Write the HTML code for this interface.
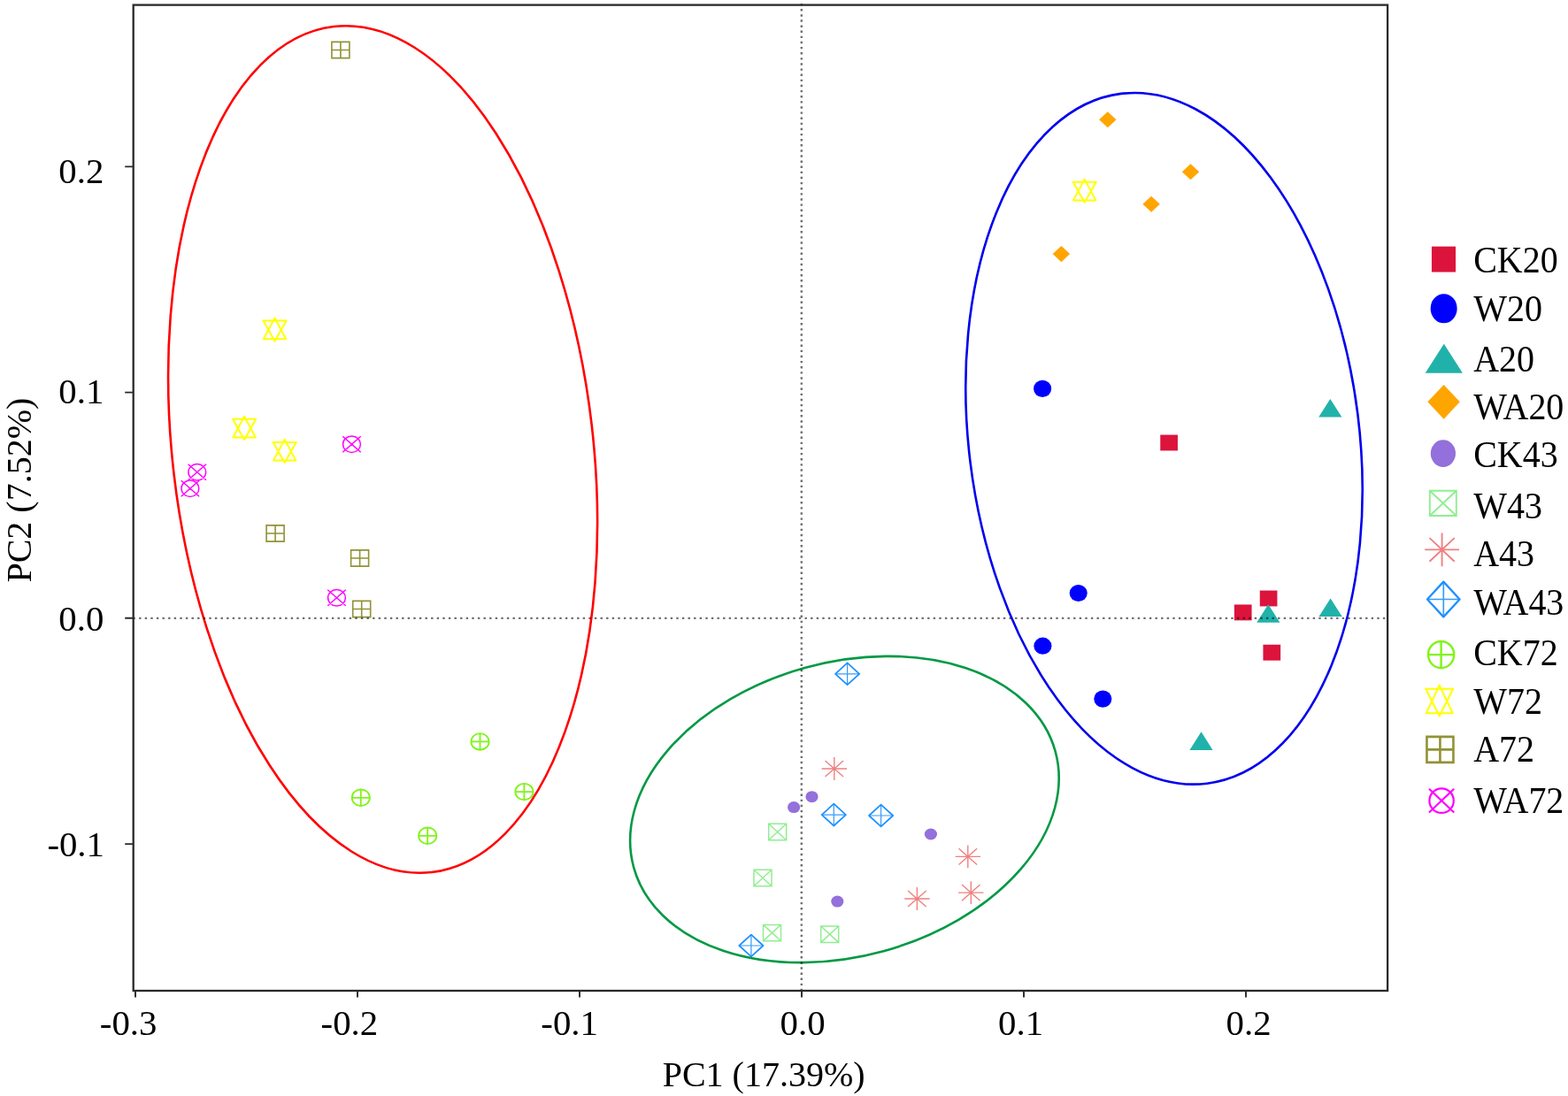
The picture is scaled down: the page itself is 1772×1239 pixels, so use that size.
<!DOCTYPE html>
<html><head><meta charset="utf-8"><title>PCA plot</title>
<style>html,body{margin:0;padding:0;background:#fff;width:1772px;height:1239px;overflow:hidden}svg{display:block}</style>
</head><body>
<svg width="1772" height="1239" viewBox="0 0 1772 1239">
<rect width="1772" height="1239" fill="#fff"/>
<g fill="none" stroke-width="2.6">
<ellipse cx="432.6" cy="508.0" rx="237.7" ry="481.2" transform="rotate(-6.6 432.6 508.0)" stroke="#FF0000"/>
<ellipse cx="1315.5" cy="495.8" rx="220.6" ry="392.9" transform="rotate(-7.1 1315.5 495.8)" stroke="#0000EE"/>
<ellipse cx="954.4" cy="915.0" rx="247.1" ry="166.2" transform="rotate(-15.4 954.4 915.0)" stroke="#009944"/>
</g>
<rect x="1311.25" y="491.55" width="19.7" height="17.9" fill="#DC143C"/>
<rect x="1394.85" y="683.45" width="19.7" height="17.9" fill="#DC143C"/>
<rect x="1423.75" y="667.55" width="19.7" height="17.9" fill="#DC143C"/>
<rect x="1427.45" y="728.75" width="19.7" height="17.9" fill="#DC143C"/>
<ellipse cx="1178.1" cy="439.4" rx="10.05" ry="9.6" fill="#0000FF"/>
<ellipse cx="1218.7" cy="670.5" rx="10.05" ry="9.6" fill="#0000FF"/>
<ellipse cx="1178.4" cy="730.2" rx="10.05" ry="9.6" fill="#0000FF"/>
<ellipse cx="1246.3" cy="790.1" rx="10.05" ry="9.6" fill="#0000FF"/>
<polygon points="1503.3,451 1490.2,471.6 1516.4,471.6" fill="#20B2AA"/>
<polygon points="1433.3,683.2 1420.2,703.8 1446.4,703.8" fill="#20B2AA"/>
<polygon points="1503.6,676.5 1490.5,697.1 1516.7,697.1" fill="#20B2AA"/>
<polygon points="1357.5,827.3 1344.4,847.9 1370.6,847.9" fill="#20B2AA"/>
<polygon points="1251.8,126.25 1261.5,135.3 1251.8,144.35 1242.1,135.3" fill="#FFA500"/>
<polygon points="1345.5,185.25 1355.2,194.3 1345.5,203.35 1335.8,194.3" fill="#FFA500"/>
<polygon points="1301.1,221.65 1310.8,230.7 1301.1,239.75 1291.4,230.7" fill="#FFA500"/>
<polygon points="1199.4,278.05 1209.1,287.1 1199.4,296.15 1189.7,287.1" fill="#FFA500"/>
<ellipse cx="917.5" cy="900.7" rx="7.1" ry="6.5" fill="#9370DB"/>
<ellipse cx="897.1" cy="912.6" rx="7.1" ry="6.5" fill="#9370DB"/>
<ellipse cx="1051.9" cy="943" rx="7.1" ry="6.5" fill="#9370DB"/>
<ellipse cx="946.3" cy="1019.1" rx="7.1" ry="6.5" fill="#9370DB"/>
<path d="M868.7 931.3H888.7V949.7H868.7ZM868.7 931.3L888.7 949.7M888.7 931.3L868.7 949.7" fill="none" stroke="#90EE90" stroke-width="1.5"/>
<path d="M852 983.3H872V1001.7H852ZM852 983.3L872 1001.7M872 983.3L852 1001.7" fill="none" stroke="#90EE90" stroke-width="1.5"/>
<path d="M862.5 1045.4H882.5V1063.8H862.5ZM862.5 1045.4L882.5 1063.8M882.5 1045.4L862.5 1063.8" fill="none" stroke="#90EE90" stroke-width="1.5"/>
<path d="M927.7 1047H947.7V1065.4H927.7ZM927.7 1047L947.7 1065.4M947.7 1047L927.7 1065.4" fill="none" stroke="#90EE90" stroke-width="1.5"/>
<path d="M928.6 869H957M942.8 856.1V881.9M932.5 859.9L953.1 878.1M953.1 859.9L932.5 878.1" fill="none" stroke="#F08080" stroke-width="1.4"/>
<path d="M1079.6 968.4H1108M1093.8 955.5V981.3M1083.5 959.3L1104.1 977.5M1104.1 959.3L1083.5 977.5" fill="none" stroke="#F08080" stroke-width="1.4"/>
<path d="M1083.1 1009.1H1111.5M1097.3 996.2V1022M1087 1000L1107.6 1018.2M1107.6 1000L1087 1018.2" fill="none" stroke="#F08080" stroke-width="1.4"/>
<path d="M1022.2 1016H1050.6M1036.4 1003.1V1028.9M1026.1 1006.9L1046.7 1025.1M1046.7 1006.9L1026.1 1025.1" fill="none" stroke="#F08080" stroke-width="1.4"/>
<path d="M957.6 749.4L971.2 761.8L957.6 774.2L944 761.8Z" fill="none" stroke="#1E90FF" stroke-width="1.7" stroke-linejoin="round"/><path d="M957.6 749.4V774.2M944 761.8H971.2" fill="none" stroke="#1E90FF" stroke-width="1.22" stroke-opacity="0.9"/>
<path d="M942.3 908.7L955.9 921.1L942.3 933.5L928.7 921.1Z" fill="none" stroke="#1E90FF" stroke-width="1.7" stroke-linejoin="round"/><path d="M942.3 908.7V933.5M928.7 921.1H955.9" fill="none" stroke="#1E90FF" stroke-width="1.22" stroke-opacity="0.9"/>
<path d="M995.6 909.6L1009.2 922L995.6 934.4L982 922Z" fill="none" stroke="#1E90FF" stroke-width="1.7" stroke-linejoin="round"/><path d="M995.6 909.6V934.4M982 922H1009.2" fill="none" stroke="#1E90FF" stroke-width="1.22" stroke-opacity="0.9"/>
<path d="M848.9 1056.6L862.5 1069L848.9 1081.4L835.3 1069Z" fill="none" stroke="#1E90FF" stroke-width="1.7" stroke-linejoin="round"/><path d="M848.9 1056.6V1081.4M835.3 1069H862.5" fill="none" stroke="#1E90FF" stroke-width="1.22" stroke-opacity="0.9"/>
<path d="M532.4 838.4A10.1 9.3 0 1 0 552.6 838.4A10.1 9.3 0 1 0 532.4 838.4ZM532.4 838.4H552.6M542.5 829.1V847.7" fill="none" stroke="#80F418" stroke-width="1.8"/>
<path d="M397.7 901.8A10.1 9.3 0 1 0 417.9 901.8A10.1 9.3 0 1 0 397.7 901.8ZM397.7 901.8H417.9M407.8 892.5V911.1" fill="none" stroke="#80F418" stroke-width="1.8"/>
<path d="M582.3 895.1A10.1 9.3 0 1 0 602.5 895.1A10.1 9.3 0 1 0 582.3 895.1ZM582.3 895.1H602.5M592.4 885.8V904.4" fill="none" stroke="#80F418" stroke-width="1.8"/>
<path d="M473.1 944.8A10.1 9.3 0 1 0 493.3 944.8A10.1 9.3 0 1 0 473.1 944.8ZM473.1 944.8H493.3M483.2 935.5V954.1" fill="none" stroke="#80F418" stroke-width="1.8"/>
<path d="M310.5 359.5L323.2 383.3L297.8 383.3ZM297.4 362.6L323.6 362.6L310.5 385.7Z" fill="none" stroke="#FFFF00" stroke-width="2" stroke-linejoin="round"/>
<path d="M276.1 470.7L288.8 494.5L263.4 494.5ZM263 473.8L289.2 473.8L276.1 496.9Z" fill="none" stroke="#FFFF00" stroke-width="2" stroke-linejoin="round"/>
<path d="M321.7 496.8L334.4 520.6L309 520.6ZM308.6 499.9L334.8 499.9L321.7 523Z" fill="none" stroke="#FFFF00" stroke-width="2" stroke-linejoin="round"/>
<path d="M1225.7 202.6L1238.4 226.4L1213 226.4ZM1212.6 205.7L1238.8 205.7L1225.7 228.8Z" fill="none" stroke="#FFFF00" stroke-width="2" stroke-linejoin="round"/>
<path d="M374.9 47.4H394.9V65.6H374.9ZM374.9 56.5H394.9M384.9 47.4V65.6" fill="none" stroke="#929236" stroke-width="1.6"/>
<path d="M301.1 593.9H321.1V612.1H301.1ZM301.1 603H321.1M311.1 593.9V612.1" fill="none" stroke="#929236" stroke-width="1.6"/>
<path d="M396.6 621.9H416.6V640.1H396.6ZM396.6 631H416.6M406.6 621.9V640.1" fill="none" stroke="#929236" stroke-width="1.6"/>
<path d="M398.7 679.4H418.7V697.6H398.7ZM398.7 688.5H418.7M408.7 679.4V697.6" fill="none" stroke="#929236" stroke-width="1.6"/>
<path d="M212.9 533.8A9.9 9.3 0 1 0 232.7 533.8A9.9 9.3 0 1 0 212.9 533.8ZM212.6 524.8L233 542.8M233 524.8L212.6 542.8" fill="none" stroke="#FF00FF" stroke-width="1.5"/>
<path d="M205 552.2A9.9 9.3 0 1 0 224.8 552.2A9.9 9.3 0 1 0 205 552.2ZM204.7 543.2L225.1 561.2M225.1 543.2L204.7 561.2" fill="none" stroke="#FF00FF" stroke-width="1.5"/>
<path d="M387.6 502.2A9.9 9.3 0 1 0 407.4 502.2A9.9 9.3 0 1 0 387.6 502.2ZM387.3 493.2L407.7 511.2M407.7 493.2L387.3 511.2" fill="none" stroke="#FF00FF" stroke-width="1.5"/>
<path d="M370.6 675.8A9.9 9.3 0 1 0 390.4 675.8A9.9 9.3 0 1 0 370.6 675.8ZM370.3 666.8L390.7 684.8M390.7 666.8L370.3 684.8" fill="none" stroke="#FF00FF" stroke-width="1.5"/>
<g stroke="#000" stroke-opacity="0.56" stroke-width="2.4">
<line x1="150.5" y1="698.9" x2="1567" y2="698.9" stroke-dasharray="2.4 4.2"/>
<line x1="905.8" y1="4.0" x2="905.8" y2="1119" stroke-dasharray="2.4 3.72"/>
</g>
<rect x="150.7" y="5.6" width="1417.4" height="1114.4" fill="none" stroke="#2a2a2a" stroke-width="2.3"/>
<path d="M153 1120V1127.6M404 1120V1127.6M655 1120V1127.6M906 1120V1127.6M1157 1120V1127.6M1408 1120V1127.6M141.2 188.4H151M141.2 443.6H151M141.2 698.8H151M141.2 954.1H151" stroke="#2a2a2a" stroke-width="1.9" fill="none"/>
<g font-family="Liberation Serif, Times New Roman, serif" font-size="40" fill="#000">
<text x="66.3" y="206.7" font-size="40.8">0.2</text>
<text x="66.3" y="455.9" font-size="40.8">0.1</text>
<text x="66.3" y="713.3" font-size="40.8">0.0</text>
<text x="53.4" y="968.3" font-size="40.8">-0.1</text>
<text x="112.8" y="1169.9" font-size="40.8">-0.3</text>
<text x="362.6" y="1169.9" font-size="40.8">-0.2</text>
<text x="611.3" y="1169.9" font-size="40.8">-0.1</text>
<text x="881.6" y="1169.9" font-size="40.8">0.0</text>
<text x="1128.1" y="1169.9" font-size="40.8">0.1</text>
<text x="1385.6" y="1169.9" font-size="40.8">0.2</text>
<text x="748.7" y="1228">PC1 (17.39%)</text>
<text transform="translate(34.5 658.6) rotate(-90)">PC2 (7.52%)</text>
<text transform="translate(1665.2 307.9) scale(1 1.035)">CK20</text>
<text transform="translate(1665.2 362.8) scale(1 1.035)">W20</text>
<text transform="translate(1665.2 420.2) scale(1 1.035)">A20</text>
<text transform="translate(1665.2 474.3) scale(1 1.035)">WA20</text>
<text transform="translate(1665.2 528.4) scale(1 1.035)">CK43</text>
<text transform="translate(1665.2 585.7) scale(1 1.035)">W43</text>
<text transform="translate(1665.2 639.9) scale(1 1.035)">A43</text>
<text transform="translate(1665.2 695.2) scale(1 1.035)">WA43</text>
<text transform="translate(1665.2 752.3) scale(1 1.035)">CK72</text>
<text transform="translate(1665.2 806.7) scale(1 1.035)">W72</text>
<text transform="translate(1665.2 861.3) scale(1 1.035)">A72</text>
<text transform="translate(1665.2 918.6) scale(1 1.035)">WA72</text>
</g>
<rect x="1617.95" y="278.65" width="27.1" height="28.9" fill="#DC143C"/>
<ellipse cx="1631.65" cy="348.75" rx="15" ry="16.5" fill="#0000FF"/>
<polygon points="1631.8,388.7 1610.7,421.7 1652.9,421.7" fill="#20B2AA"/>
<polygon points="1631.6,434.9 1649.8,454.3 1631.6,473.7 1613.4,454.3" fill="#FFA500"/>
<ellipse cx="1630.9" cy="512.6" rx="14.1" ry="15.3" fill="#9370DB"/>
<path d="M1615.8 554.75H1645.8V582.95H1615.8ZM1615.8 554.75L1645.8 582.95M1645.8 554.75L1615.8 582.95" fill="none" stroke="#90EE90" stroke-width="1.9"/>
<path d="M1610.2 621.4H1649M1629.6 602.5V640.3M1615.53 608.07L1643.67 634.73M1643.67 608.07L1615.53 634.73" fill="none" stroke="#F08080" stroke-width="1.9"/>
<path d="M1631.3 657.6L1649.6 677.5L1631.3 697.4L1613 677.5Z" fill="none" stroke="#1E90FF" stroke-width="2.3" stroke-linejoin="round"/><path d="M1631.3 657.6V697.4M1613 677.5H1649.6" fill="none" stroke="#1E90FF" stroke-width="1.66" stroke-opacity="0.9"/>
<path d="M1614 740.1A14.6 15.1 0 1 0 1643.2 740.1A14.6 15.1 0 1 0 1614 740.1ZM1614 740.1H1643.2M1628.6 725V755.2" fill="none" stroke="#80F418" stroke-width="2.4"/>
<path d="M1626.7 774.65L1641.7 806.26L1611.7 806.26ZM1611.23 778.77L1642.17 778.77L1626.7 809.45Z" fill="none" stroke="#FFFF00" stroke-width="2.1" stroke-linejoin="round"/>
<path d="M1612.45 832.9H1642.45V861.9H1612.45ZM1612.45 847.4H1642.45M1627.45 832.9V861.9" fill="none" stroke="#929236" stroke-width="2.6"/>
<path d="M1615.41 905.15A13.69 13.8 0 1 0 1642.79 905.15A13.69 13.8 0 1 0 1615.41 905.15ZM1615 891.8L1643.2 918.5M1643.2 891.8L1615 918.5" fill="none" stroke="#FF00FF" stroke-width="2.2"/>
</svg>
</body></html>
